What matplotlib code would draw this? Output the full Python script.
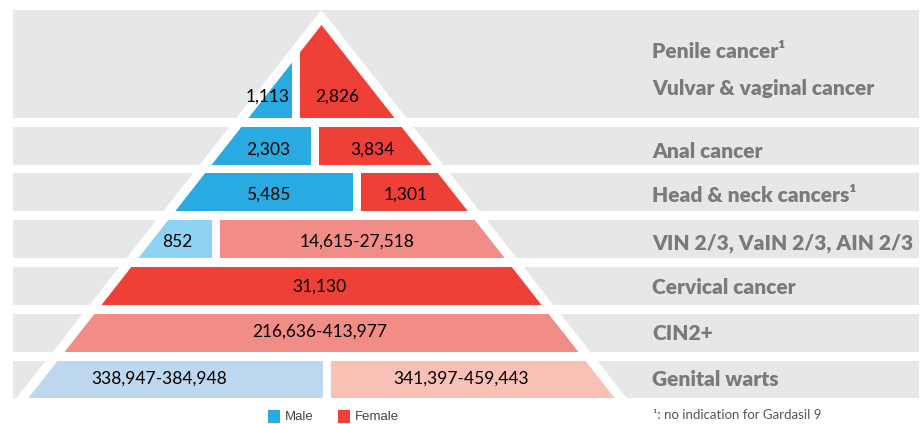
import matplotlib
matplotlib.use("Agg")
import matplotlib.pyplot as plt
from matplotlib.patches import Polygon

# data
categories = ["Penile cancer¹\nVulvar & vaginal cancer", "Anal cancer", "Head & neck cancers¹",
              "VIN 2/3, VaIN 2/3, AIN 2/3", "Cervical cancer", "CIN2+", "Genital warts"]
male_values = ["1,113", "2,303", "5,485", "852", None, None, "338,947-384,948"]
female_values = ["2,826", "3,834", "1,301", "14,615-27,518", "31,130", "216,636-413,977", "341,397-459,443"]
footnote = "¹: no indication for Gardasil 9"

# layout (pixel units of the 921x424 canvas)
W, H = 921, 424
row_top = [10, 127, 173, 220, 267, 314, 361]
row_bot = [118, 165, 211, 258, 305, 352, 398]
split_x = [296, 315, 357, 216, None, None, 327]
male_lx = [268, 268, 268, 177, None, None, 159]
female_lx = [337, 372, 406, 357, 319, 320, 461]
text_y = [97, 150, 195, 242, 287, 332, 379]
gap = 8

male_colors = ["#29abe2", "#29abe2", "#29abe2", "#8fd3f4", None, None, "#bdd7ee"]
female_colors = ["#ee4036", "#ee4036", "#ee4036", "#f28c86", "#ee4036", "#f28c86", "#f9c0b5"]
band_color = "#e6e7e8"
label_color = "#7a7a7a"

apex_x, slope = 321.5, 0.786
inner_apex, outer_apex = 25, 11
base_y = 420

fig = plt.figure(figsize=(W / 100, H / 100), dpi=100)
ax = fig.add_axes([0, 0, 1, 1])
ax.set_xlim(0, W)
ax.set_ylim(H, 0)
ax.axis("off")

centers = [(t + b) / 2 for t, b in zip(row_top, row_bot)]
heights = [b - t for t, b in zip(row_top, row_bot)]

# grey background bands
ax.barh(centers, [906] * len(centers), left=13, height=heights, color=band_color, zorder=1)

# white triangle behind the pyramid
def tri(apex_y):
    d = (base_y - apex_y) * slope
    return [(apex_x, apex_y), (apex_x - d, base_y), (apex_x + d, base_y)]

ax.add_patch(Polygon(tri(outer_apex), closed=True, color="white", zorder=2))
clip = Polygon(tri(inner_apex), closed=True, transform=ax.transData)

for i in range(len(categories)):
    if male_values[i] is not None:
        left_end = split_x[i] - gap / 2
        bars = ax.barh(centers[i], left_end, left=0, height=heights[i],
                       color=male_colors[i], zorder=3)
        for p in bars:
            p.set_clip_path(clip)
        ax.text(male_lx[i], text_y[i], male_values[i], ha="center", va="center",
                fontsize=12.5, family="Lato", color="black", zorder=4)
        start = split_x[i] + gap / 2
    else:
        start = 0
    bars = ax.barh(centers[i], W - start, left=start, height=heights[i],
                   color=female_colors[i], zorder=3)
    for p in bars:
        p.set_clip_path(clip)
    ax.text(female_lx[i], text_y[i], female_values[i], ha="center", va="center",
            fontsize=12.5, family="Lato", color="black", zorder=4)

# category labels on the right
for i, cat in enumerate(categories):
    lines = cat.split("\n")
    if len(lines) == 2:
        ys = [52, 88]
    else:
        ys = [text_y[i] + 1]
    for line, y in zip(lines, ys):
        ax.text(652, y, line, ha="left", va="center", fontsize=15, family="Lato",
                fontweight="heavy", color=label_color, zorder=4)

# legend
for x0, c, lab in [(268, "#29abe2", "Male"), (338, "#ee4036", "Female")]:
    ax.bar(x0 + 6, 13, width=12, bottom=410, color=c, zorder=4)
    ax.text(x0 + 17, 417, lab, ha="left", va="center", fontsize=9.5,
            family="Liberation Sans", color="#444444")

ax.text(653, 415, footnote, ha="left", va="center", fontsize=9.5, family="Lato",
        color="#555555")

fig.savefig("out.png", dpi=100)
